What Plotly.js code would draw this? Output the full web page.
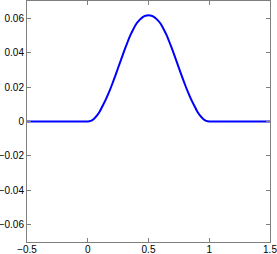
<!DOCTYPE html>
<html>
<head>
<meta charset="utf-8">
<script src="https://cdn.plot.ly/plotly-3.0.1.min.js"></script>
<style>html,body{margin:0;padding:0;background:#fff;}#chart{width:277px;height:254px;}</style>
</head>
<body>
<div id="chart"></div>
<script>
var xValues = [-0.5, -0.25, 0, 0.025, 0.05, 0.075, 0.1, 0.125, 0.15, 0.175, 0.2, 0.225, 0.25, 0.275, 0.3, 0.325, 0.35, 0.375, 0.4, 0.425, 0.45, 0.475, 0.5,
               0.525, 0.55, 0.575, 0.6, 0.625, 0.65, 0.675, 0.7, 0.725, 0.75, 0.775, 0.8, 0.825, 0.85, 0.875, 0.9, 0.925, 0.95, 0.975, 1, 1.25, 1.5];
var yValues = [0, 0, 0, 0.0004, 0.0015, 0.0034, 0.006, 0.0094, 0.013, 0.017, 0.0215, 0.0262, 0.0312, 0.0361, 0.041, 0.0456, 0.05, 0.0536, 0.0568, 0.0589, 0.0605, 0.0614, 0.0617,
               0.0614, 0.0605, 0.0589, 0.0568, 0.0536, 0.05, 0.0456, 0.041, 0.0361, 0.0312, 0.0262, 0.0215, 0.017, 0.013, 0.0094, 0.006, 0.0034, 0.0015, 0.0004, 0, 0, 0];
var xTicks = [-0.5, 0, 0.5, 1, 1.5];
var xTickLabels = ['\u22120.5', '0', '0.5', '1', '1.5'];
var yTicks = [-0.06, -0.04, -0.02, 0, 0.02, 0.04, 0.06];
var yTickLabels = ['\u22120.06', '\u22120.04', '\u22120.02', '0', '0.02', '0.04', '0.06'];

var axisCommon = {
  showgrid: false, zeroline: false, showline: true, linecolor: '#7f7f7f', linewidth: 1,
  mirror: 'ticks', ticks: 'inside', ticklen: 4, tickcolor: '#7f7f7f', tickwidth: 1,
  tickfont: {family: 'Liberation Sans, Arial, sans-serif', size: 10, color: '#000'},
  automargin: false, fixedrange: true, ticklabeloverflow: 'allow'
};

var trace = {
  x: xValues, y: yValues, type: 'scatter', mode: 'lines',
  line: {color: '#0000ff', width: 2, shape: 'spline', smoothing: 0.5},
  hoverinfo: 'none'
};

var layout = {
  width: 277, height: 254,
  margin: {l: 27, r: 7, t: 1, b: 12, pad: 0},
  paper_bgcolor: '#fff', plot_bgcolor: '#fff',
  showlegend: false,
  xaxis: Object.assign({}, axisCommon, {range: [-0.5, 1.5000001], tickvals: xTicks, ticktext: xTickLabels, ticklabelstandoff: -2}),
  yaxis: Object.assign({}, axisCommon, {range: [-0.07, 0.07], tickvals: yTicks, ticktext: yTickLabels, ticklabelstandoff: 0})
};

Plotly.newPlot('chart', [trace], layout, {displayModeBar: false, staticPlot: true});
</script>
</body>
</html>
